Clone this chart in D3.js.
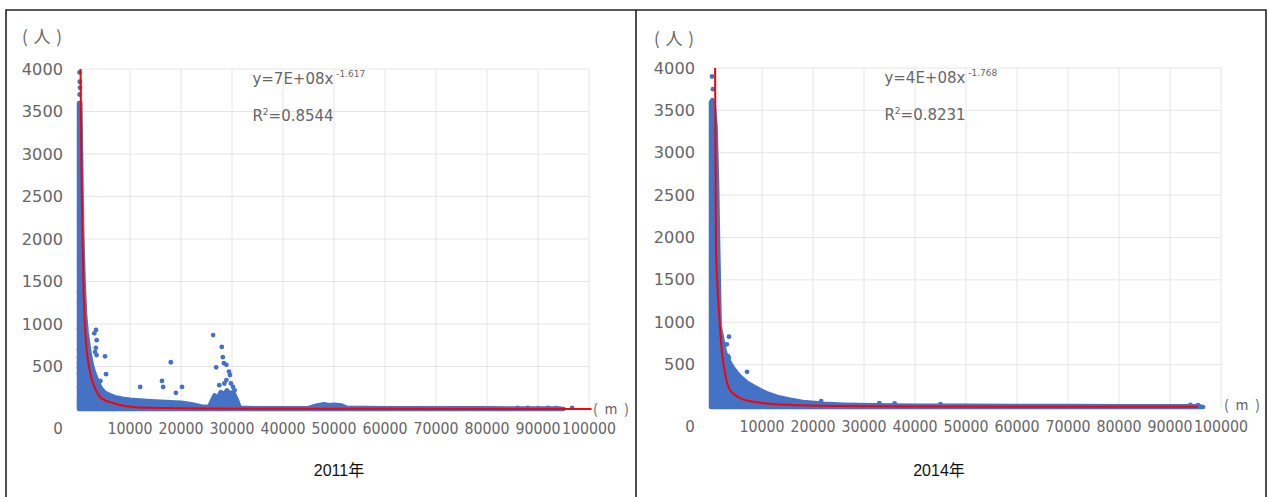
<!DOCTYPE html>
<html>
<head>
<meta charset="utf-8">
<script src="https://cdn.jsdelivr.net/npm/d3@7"></script>
<style>
body{margin:0;background:#fff;}
svg{display:block;}
</style>
</head>
<body>
<div id="main"></div>
<script>
// tick labels
var yTicks = [500, 1000, 1500, 2000, 2500, 3000, 3500, 4000];
var xTicks = [10000, 20000, 30000, 40000, 50000, 60000, 70000, 80000, 90000, 100000];

var years = ['2011年', '2014年'];
var equations = ['y=7E+08x', 'y=4E+08x'];
var exponents = ['-1.617', '-1.768'];
var rSquared = ['0.8544', '0.8231'];

// upper edge of the dense point cloud [distance m, persons]
var band2011 = [[0,3600],[250,3600],[400,3000],[550,2300],[700,1900],[900,1500],[1200,1100],[1500,900],[2000,680],[2500,520],[3000,420],[3600,330],[4200,250],[5000,195],[6000,165],[7000,140],[8500,120],[10000,110],[12000,100],[14000,92],[16000,85],[18000,80],[20000,75],[22000,55],[24000,30],[25500,25],[26000,90],[26600,160],[27200,130],[27800,200],[28400,170],[29000,220],[29600,180],[30200,200],[31000,100],[31500,15],[34000,10],[40000,8],[45000,10],[46500,40],[48000,55],[49000,45],[50000,50],[51500,40],[52500,15],[60000,10],[70000,8],[80000,8],[90000,6],[94000,5],[95000,0]];
var band2014 = [[0,3600],[500,3600],[900,3300],[1200,2600],[1400,1900],[1700,950],[2200,800],[2750,640],[3500,540],[4300,460],[5500,370],[7000,290],[9000,220],[11000,160],[13000,120],[15500,85],[18000,60],[22000,38],[26000,28],[32000,20],[40000,16],[50000,14],[60000,12],[70000,11],[80000,10],[90000,10],[95500,8],[96500,0]];

// scattered points outside the cloud
var points2011 = [[100,3960],[150,3850],[200,3780],[120,3700],[0,1380],[0,1250],[0,950],[0,700],[0,610],[0,540],[0,490],[0,420],[0,260],[0,105],[0,60],
  [3333,930],[3000,890],[3470,810],[3300,720],[3150,670],[3450,635],[5100,620],[5300,410],[4200,330],[16270,330],[16500,260],[18000,550],[12000,260],[20200,260],[19000,190],
  [26300,870],[28000,730],[28200,610],[28400,540],[28900,520],[26900,490],[29400,440],[29600,400],[28900,340],[28500,300],[30200,260],[30500,220],[27500,280],[29800,300],
  [86000,12],[88000,14],[90000,10],[92000,12],[93500,10],[96700,14]];
var points2014 = [[200,3900],[400,3750],[300,3620],[3530,830],[3100,740],[3330,600],[3530,580],[7060,415],[10600,165],[21600,70],[33000,45],[36000,42],[45000,35],[94000,25],[95500,22]];

// power trendline [distance m, persons]
var trend2011 = [[300,4000],[450,3000],[600,2300],[725,1870],[900,1400],[1176,960],[1500,700],[1765,576],[2200,420],[2745,305],[3400,210],[4118,141],[5000,105],[6667,70],[8500,40],[10588,24],[14000,15],[17255,12],[25000,6],[40000,3],[60000,1.5],[80000,1],[100500,0.6]];
var trend2014 = [[800,4000],[900,2800],[980,1850],[1240,1460],[1630,1060],[2100,670],[2750,400],[3730,200],[5700,105],[9000,55],[15500,25],[25300,12],[40000,6],[60000,3],[80000,2],[95500,1.5]];

var panels = [
	{x0: 79, x1: 589, y0: 409, y1: 69, band: band2011, points: points2011, trend: trend2011, cap: 339, unit: [22, 43], unitM: [593, 414]},
	{x0: 711, x1: 1221, y0: 407, y1: 68, band: band2014, points: points2014, trend: trend2014, cap: 939, unit: [654, 45], unitM: [1224, 410]}
];

var blue = '#4472c4';
var labelFont = '"DejaVu Sans", sans-serif';

var svg = d3.select('#main').append('svg')
			.attr('width', 1269)
			.attr('height', 497);

// table borders
svg.append('path')
	.attr('d', 'M6,497 V10 H1266 V497 M636,10 V497')
	.attr('fill', 'none')
	.attr('stroke', '#222')
	.attr('stroke-width', 1.6);

function drawPanel(p, i){
	var x = d3.scaleLinear().domain([0, 100000]).range([p.x0, p.x1]);
	var y = d3.scaleLinear().domain([0, 4000]).range([p.y0, p.y1]);
	var g = svg.append('g');

	// gridlines
	g.selectAll('.hgrid').data(yTicks).enter().append('line')
		.attr('x1', p.x0).attr('x2', p.x1)
		.attr('y1', function(d){ return y(d); }).attr('y2', function(d){ return y(d); })
		.attr('stroke', '#e6e6e6');
	g.selectAll('.vgrid').data(xTicks).enter().append('line')
		.attr('x1', function(d){ return x(d); }).attr('x2', function(d){ return x(d); })
		.attr('y1', p.y0).attr('y2', p.y1)
		.attr('stroke', '#e6e6e6');

	// tick labels
	g.selectAll('.ylab').data(yTicks).enter().append('text')
		.attr('x', p.x0 - 16).attr('y', function(d){ return y(d) + 5.5; })
		.attr('text-anchor', 'end')
		.attr('textLength', function(d){ return String(d).length * 10.3; })
		.attr('lengthAdjust', 'spacingAndGlyphs')
		.style('font', '15px ' + labelFont).style('fill', '#666')
		.text(function(d){ return d; });
	g.selectAll('.xlab').data(xTicks).enter().append('text')
		.attr('x', function(d){ return x(d) - String(d).length * 4.5; })
		.attr('y', p.y0 + 25)
		.attr('textLength', function(d){ return String(d).length * 9; })
		.attr('lengthAdjust', 'spacingAndGlyphs')
		.style('font', '15px ' + labelFont).style('fill', '#666')
		.text(function(d){ return d; });
	g.append('text')
		.attr('x', p.x0 - 21).attr('y', p.y0 + 25)
		.attr('text-anchor', 'middle')
		.style('font', '15px ' + labelFont).style('fill', '#666')
		.text('0');

	// units
	g.append('text')
		.attr('x', p.unit[0]).attr('y', p.unit[1])
		.attr('textLength', 40)
		.attr('lengthAdjust', 'spacing')
		.style('font', '17px "Noto Sans CJK JP", sans-serif').style('fill', '#666')
		.text('(人)');
	g.append('text')
		.attr('x', p.unitM[0]).attr('y', p.unitM[1])
		.attr('textLength', 36)
		.attr('lengthAdjust', 'spacing')
		.style('font', '14px "Noto Sans CJK JP", sans-serif').style('fill', '#666')
		.text('(m)');

	// dense cloud (stroke width stands in for marker size)
	g.append('path')
		.datum(p.band)
		.attr('d', d3.area()
			.x(function(d){ return x(d[0]); })
			.y0(y(0))
			.y1(function(d){ return y(d[1]); }))
		.attr('fill', blue)
		.attr('stroke', blue)
		.attr('stroke-width', 4.5)
		.attr('stroke-linejoin', 'round');

	// outlying points
	g.selectAll('.pt').data(p.points).enter().append('circle')
		.attr('cx', function(d){ return x(d[0]); })
		.attr('cy', function(d){ return y(d[1]); })
		.attr('r', 2.4)
		.attr('fill', blue);

	// trendline
	g.append('path')
		.datum(p.trend)
		.attr('d', d3.line()
			.x(function(d){ return x(d[0]); })
			.y(function(d){ return y(d[1]); })
			.curve(d3.curveMonotoneX))
		.attr('fill', 'none')
		.attr('stroke', '#ff0000')
		.attr('stroke-width', 2);

	// equation
	var eq = g.append('text')
		.attr('x', x(34000)).attr('y', y(3880) + 5)
		.style('font', '15px ' + labelFont).style('fill', '#666');
	eq.append('tspan').text(equations[i]);
	eq.append('tspan').attr('dy', -7).style('font-size', '9px').text(' ' + exponents[i]);

	var r2 = g.append('text')
		.attr('x', x(34000)).attr('y', y(3450) + 5)
		.style('font', '15px ' + labelFont).style('fill', '#666');
	r2.append('tspan').text('R');
	r2.append('tspan').attr('dy', -6).style('font-size', '9px').text('2');
	r2.append('tspan').attr('dy', 6).text('=' + rSquared[i]);

	// caption
	svg.append('text')
		.attr('x', p.cap).attr('y', 476)
		.attr('text-anchor', 'middle')
		.style('font', '16px "Liberation Sans", "Noto Sans CJK JP", sans-serif').style('fill', '#111')
		.text(years[i]);
}

panels.forEach(drawPanel);
</script>
</body>
</html>
